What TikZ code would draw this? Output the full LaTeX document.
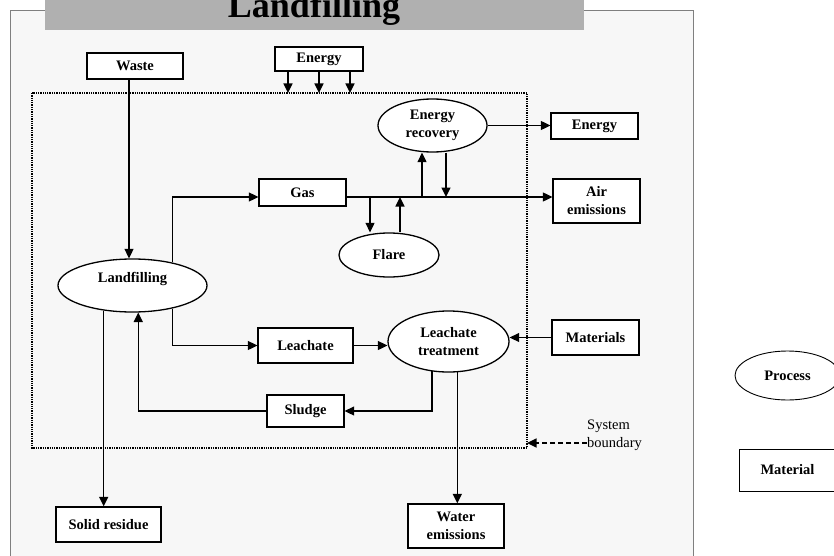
\documentclass[tikz,border=0pt]{standalone}
\usepackage{fontspec}
\setmainfont{Liberation Serif}
\usetikzlibrary{arrows.meta,shapes.geometric,calc}
\definecolor{framebg}{HTML}{F7F7F7}
\definecolor{frameln}{HTML}{7F7F7F}
\definecolor{banner}{HTML}{B0B0B0}
\begin{document}
\begin{tikzpicture}[x=1pt,y=-1pt,
  every node/.style={font=\fontsize{14.5}{18}\selectfont\bfseries},
  matbox/.style={draw,fill=white,line width=1.3pt,rectangle,inner sep=0pt,align=center},
  procell/.style={draw,fill=white,line width=1.3pt,ellipse,inner sep=0pt,align=center},
  arr/.style={line width=1.35pt,-{Triangle[length=9.5pt,width=9pt]}},
]
\clip (0,0) rectangle (834,556);
\useasboundingbox (0,0) rectangle (834,556);
% frame
\fill[framebg] (10,11) rectangle (693,570);
\draw[frameln,line width=1pt] (10,570) -- (10,11) -- (693,11) -- (693,570);
\fill[banner] (45,-5) rectangle (584,30);
\node[anchor=base,inner sep=0pt,font=\fontsize{36}{40}\selectfont\bfseries] (title) at (314,18) {Landfilling};
% system boundary
\coordinate (bTL) at (32,93);
\coordinate (bBR) at (527,448);
\draw[densely dotted,line width=1.3pt] (bTL) rectangle (bBR);
% nodes
\node[matbox,minimum width=96pt,minimum height=26pt] (waste) at (135,66) {Waste};
\node[matbox,minimum width=88pt,minimum height=24pt] (en1) at (319,59) {Energy};
\node[procell,minimum width=109pt,minimum height=53pt] (er) at (432.5,125.5) {Energy\\recovery};
\node[matbox,minimum width=87pt,minimum height=26pt] (en2) at (594.5,126) {Energy};
\node[matbox,minimum width=87pt,minimum height=27pt] (gas) at (302.5,192.5) {Gas};
\node[matbox,minimum width=87pt,minimum height=44pt] (air) at (596.5,201) {Air\\emissions};
\node[procell,minimum width=100pt,minimum height=44pt] (flare) at (389,255) {Flare};
\node[procell,minimum width=149pt,minimum height=53pt] (lf) at (132.5,285.5) {};
\node[inner sep=0pt] (lftext) at ([yshift=6.5pt]lf.center) {Landfilling};
\node[matbox,minimum width=95pt,minimum height=35pt] (leach) at (305.5,345.5) {Leachate};
\node[procell,minimum width=121pt,minimum height=61pt] (lt) at (448.5,341.5) {Leachate\\treatment};
\node[matbox,minimum width=87pt,minimum height=35pt] (mat) at (595.5,337.5) {Materials};
\node[matbox,minimum width=77pt,minimum height=32pt] (sludge) at (305.5,411) {Sludge};
\node[matbox,minimum width=105pt,minimum height=35pt] (solid) at (108.5,524.5) {Solid residue};
\node[matbox,minimum width=96pt,minimum height=44pt] (water) at (456,526) {Water\\emissions};
% legend
\node[procell,line width=0.9pt,minimum width=105pt,minimum height=49pt] (lgp) at (787.5,375.5) {Process};
\node[matbox,line width=0.9pt,minimum width=97pt,minimum height=42pt] (lgm) at (787.5,470) {Material};
% system boundary label
\node[anchor=west,align=left,inner sep=0pt,font=\fontsize{14.5}{18}\selectfont] (sb) at (587,435) {System\\boundary};
% connectors
\coordinate (gl) at (0,197);
\coordinate (u1) at (422,197);
\coordinate (d1) at (446,197);
\coordinate (d2) at (370,197);
\coordinate (u2) at (400,197);
\draw[arr] ([xshift=-6pt]waste.south) -- ([xshift=-6pt]waste.south |- lf.north);
\foreach \dx in {-31,0,31}
  \draw[arr] ([xshift=\dx pt]en1.south) -- ([xshift=\dx pt]en1.south |- bTL);
\draw[arr] (lf.30) |- (gas.west |- gl);
\draw[arr] (gas.east |- gl) -- (air.west |- gl);
\draw[arr] (u1) -- (u1 |- er.south);
\draw[arr] (d1 |- er.south) -- (d1);
\draw[arr] (d2) -- (d2 |- flare.north);
\draw[arr] (u2 |- flare.north) -- (u2);
\draw[arr] (er.east) -- (er.east -| en2.west);
\draw[arr] (lf.-30) |- (leach.west);
\draw[arr] (leach.east) -- (leach.east -| lt.west);
\draw[arr] (mat.west) -- (mat.west -| lt.east);
\draw[arr] (lt.241) |- (sludge.east);
\draw[arr] (sludge.west) -| (lf.-78);
\draw[arr] (lf.221) -- (lf.221 |- solid.north);
\draw[arr] (lt.-74) -- (lt.-74 |- water.north);
\draw[arr,dash pattern=on 5pt off 3pt] ([yshift=-8pt]sb.west) -- ([yshift=-8pt]sb.west -| bBR);
\end{tikzpicture}
\end{document}
